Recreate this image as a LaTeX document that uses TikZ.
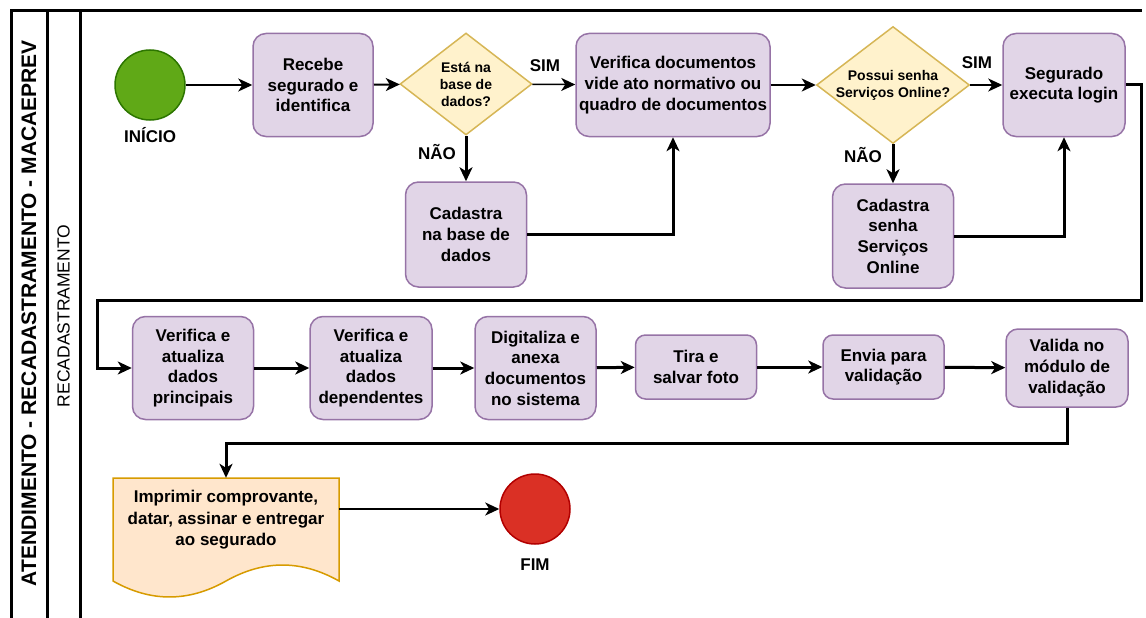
\documentclass[tikz,border=0pt]{standalone}
\usepackage{fontspec}
\setmainfont{Liberation Sans}
\usetikzlibrary{arrows.meta,positioning,calc,shapes.geometric}

\definecolor{roxoF}{HTML}{E1D5E7}
\definecolor{roxoB}{HTML}{9673A6}
\definecolor{amareloF}{HTML}{FFF2CC}
\definecolor{amareloB}{HTML}{D6B656}
\definecolor{laranjaF}{HTML}{FFE6CC}
\definecolor{laranjaB}{HTML}{D79B00}
\definecolor{verdeF}{HTML}{60A917}
\definecolor{verdeB}{HTML}{2D7600}
\definecolor{vermF}{HTML}{DA3025}
\definecolor{vermB}{HTML}{B20000}

\newcommand{\tam}[2]{\fontsize{#1}{#2}\selectfont}

\begin{document}
\begin{tikzpicture}[x=1pt,y=-1pt,
    raia/.style={line width=3pt},
    passo/.style={draw=roxoB, fill=roxoF, line width=1.5pt, rounded corners=13pt,
      align=center, font=\bfseries\tam{17}{20.7}, minimum width=121pt,
      minimum height=103pt, inner sep=2pt},
    passob/.style={passo, rounded corners=10pt, minimum height=64pt},
    decisao/.style={diamond, draw=amareloB, fill=amareloF, line width=1.5pt,
      align=center, font=\bfseries\tam{14}{17}, inner sep=-8pt},
    evento/.style={circle, line width=1.5pt, minimum size=70pt, inner sep=0pt},
    rotulo/.style={font=\bfseries\tam{17}{20}},
    seta/.style={-{Stealth[length=14pt,width=13pt,inset=4pt]}, line width=2pt},
    fino/.style={line width=1.5pt},
    grosso/.style={line width=3pt}]
    \useasboundingbox (0,0) rectangle (1146,618);
    % pool e raia
    \draw[raia] (11,618) -- (11,11) -- (1142,11);
    \draw[raia] (47,11) -- (47,618);
    \draw[raia] (80,11) -- (80,618);
    \node[rotate=90, font=\bfseries\tam{21}{25}] (pool) at (29,313) {ATENDIMENTO - RECADASTRAMENTO - MACAEPREV};
    \node[rotate=90, font=\tam{17.5}{21}] (lane) at (63.5,316) {RECADASTRAMENTO};
    % primeira linha
    \node[evento, draw=verdeB, fill=verdeF] (inicio) at (150,85) {};
    \node[rotulo] (lblinicio) at (150,135) {INÍCIO};
    \node[passo, minimum width=120pt] (recebe) at (313,85) {Recebe\\segurado e\\identifica};
    \node[decisao, minimum width=132pt, minimum height=102pt] (esta) at (466,84) {Está na\\base de\\dados?};
    \node[passo, minimum width=194pt] (verifdoc) at (673,85) {Verifica documentos\\vide ato normativo ou\\quadro de documentos};
    \node[passo, minimum height=105pt] (cadbase) at (466,234.5) {Cadastra\\na base de\\dados};
    \node[decisao, minimum width=153pt, minimum height=117pt] (possui) at (893,85) {Possui senha\\Serviços Online?};
    \node[passo, minimum width=122pt] (segurado) at (1064,85) {Segurado\\executa login};
    \node[passo, minimum height=104pt] (cadsenha) at (893,236) {Cadastra\\senha\\Serviços\\Online};
    \node[rotulo] (sim1) at (545,66) {SIM};
    \node[rotulo] (nao1) at (437,152) {NÃO};
    \node[rotulo] (sim2) at (977,63) {SIM};
    \node[rotulo] (nao2) at (863,155) {NÃO};
    % segunda linha
    \node[passo] (principais) at (193,368) {Verifica e\\atualiza\\dados\\principais};
    \node[passo, minimum width=122pt] (dependentes) at (371,368) {Verifica e\\atualiza\\dados\\dependentes};
    \node[passo] (digitaliza) at (535.5,368) {Digitaliza e\\anexa\\documentos\\no sistema};
    \node[passob] (foto) at (696,367) {Tira e\\salvar foto};
    \node[passob] (envia) at (883.5,367) {Envia para\\validação};
    \node[passo, minimum width=122pt, minimum height=78pt, rounded corners=12pt] (valida) at (1067,368) {Valida no\\módulo de\\validação};
    % documento final
    \draw[draw=laranjaB, fill=laranjaF, line width=1.5pt] (113,478) -- (339,478) -- (339,581)
      .. controls (301.3,559.7) and (263.7,559.7) .. (226,581)
      .. controls (188.3,602.3) and (150.7,602.3) .. (113,581) -- cycle;
    \node[minimum width=226pt, minimum height=62pt, inner sep=0pt] (doc) at (226,509) {};
    \node[align=center, font=\bfseries\tam{17}{21.5}] (doctxt) at (226,520) {Imprimir comprovante,\\datar, assinar e entregar\\ao segurado};
    \node[evento, draw=vermB, fill=vermF] (fim) at (535,509) {};
    \node[rotulo] (lblfim) at (535,565) {FIM};
    % conectores
    \coordinate (r1) at (1141,300);
    \coordinate (l1) at (97,300);
    \coordinate (b1) at (226,443);
    \draw[seta, fino] (inicio) -- (recebe);
    \draw[seta] (recebe) -- (esta);
    \draw[seta, fino] (esta) -- (verifdoc);
    \draw[seta, grosso] (esta) -- (cadbase);
    \draw[seta, grosso] (cadbase) -| (verifdoc);
    \draw[seta] (verifdoc) -- (possui);
    \draw[seta, fino] (possui) -- (segurado);
    \draw[seta, grosso] (possui) -- (cadsenha);
    \draw[seta, grosso] (cadsenha) -| (segurado);
    \draw[seta, grosso] (segurado.east) -| (r1) -- (l1) |- (principais);
    \draw[seta, grosso] (principais) -- (dependentes);
    \draw[seta, grosso] (dependentes) -- (digitaliza);
    \draw[seta, grosso] (digitaliza) -- (foto);
    \draw[seta, grosso] (foto) -- (envia);
    \draw[seta, grosso] (envia) -- (valida);
    \draw[seta, grosso] (valida) |- (b1) -- (doc);
    \draw[seta] (doc) -- (fim);
\end{tikzpicture}
\end{document}
